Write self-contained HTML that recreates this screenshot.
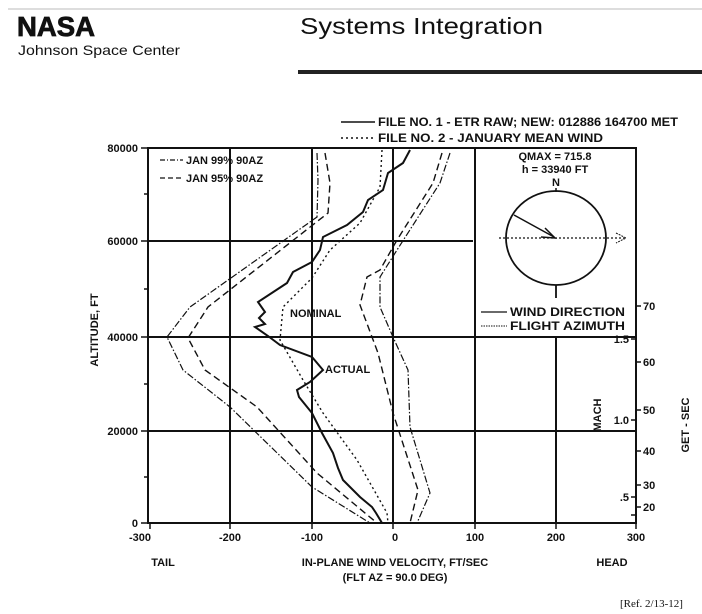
<!DOCTYPE html>
<html><head><style>
html,body{margin:0;padding:0;background:#fff;}
svg{display:block;}
text{font-family:"Liberation Sans",sans-serif;fill:#111;}
.b{font-weight:bold;}
</style></head><body>
<svg width="702" height="614" viewBox="0 0 702 614" xmlns="http://www.w3.org/2000/svg">
<line x1="8" y1="9" x2="702" y2="9" stroke="#bbb" stroke-width="1"/>
<text x="17" y="36" class="b" font-size="28" textLength="78" lengthAdjust="spacingAndGlyphs" stroke="#111" stroke-width="0.8">NASA</text>
<text x="18" y="55" font-size="14" textLength="162" lengthAdjust="spacingAndGlyphs">Johnson Space Center</text>
<text x="300" y="34" font-size="23" textLength="243" lengthAdjust="spacingAndGlyphs">Systems Integration</text>
<rect x="298" y="70" width="404" height="4" fill="#222"/>

<line x1="341" y1="122" x2="375" y2="122" stroke="#111" stroke-width="1.5"/>
<text x="378" y="126" class="b" font-size="12" textLength="300" lengthAdjust="spacingAndGlyphs">FILE NO. 1 - ETR RAW; NEW: 012886 164700 MET</text>
<line x1="341" y1="138" x2="375" y2="138" stroke="#111" stroke-width="1.5" stroke-dasharray="2,3"/>
<text x="378" y="142" class="b" font-size="12" textLength="225" lengthAdjust="spacingAndGlyphs">FILE NO. 2 - JANUARY MEAN WIND</text>

<g stroke="#111" stroke-width="2" fill="none">
<rect x="148" y="148" width="488" height="375"/>
<line x1="230" y1="148" x2="230" y2="523"/>
<line x1="312" y1="148" x2="312" y2="523"/>
<line x1="393" y1="148" x2="393" y2="523"/>
<line x1="475" y1="148" x2="475" y2="523"/>
<line x1="556" y1="337" x2="556" y2="523"/>
<line x1="148" y1="241" x2="473" y2="241"/>
<line x1="148" y1="337" x2="636" y2="337"/>
<line x1="148" y1="431" x2="636" y2="431"/>
</g>
<g stroke="#111" stroke-width="1.5">
<line x1="141" y1="148" x2="148" y2="148"/><line x1="144" y1="194" x2="148" y2="194"/>
<line x1="141" y1="241" x2="148" y2="241"/><line x1="144" y1="289" x2="148" y2="289"/>
<line x1="141" y1="337" x2="148" y2="337"/><line x1="144" y1="384" x2="148" y2="384"/>
<line x1="141" y1="431" x2="148" y2="431"/><line x1="144" y1="477" x2="148" y2="477"/>
<line x1="141" y1="523" x2="148" y2="523"/>
<line x1="150" y1="523" x2="150" y2="529"/><line x1="230" y1="523" x2="230" y2="529"/>
<line x1="312" y1="523" x2="312" y2="529"/><line x1="393" y1="523" x2="393" y2="529"/>
<line x1="475" y1="523" x2="475" y2="529"/><line x1="556" y1="523" x2="556" y2="529"/>
<line x1="636" y1="523" x2="636" y2="529"/>
<line x1="636" y1="306" x2="641" y2="306"/><line x1="636" y1="362" x2="641" y2="362"/>
<line x1="636" y1="410" x2="641" y2="410"/><line x1="636" y1="451" x2="641" y2="451"/>
<line x1="636" y1="485" x2="641" y2="485"/><line x1="636" y1="507" x2="641" y2="507"/>
<line x1="631" y1="339" x2="636" y2="339"/><line x1="631" y1="420" x2="636" y2="420"/>
<line x1="631" y1="497" x2="636" y2="497"/><line x1="631" y1="515" x2="636" y2="515"/>
</g>

<g class="b" font-size="11" text-anchor="end">
<text x="138" y="152">80000</text><text x="138" y="245">60000</text>
<text x="138" y="341">40000</text><text x="138" y="435">20000</text><text x="138" y="527">0</text>
</g>
<g class="b" font-size="11" text-anchor="middle">
<text x="140" y="541">-300</text><text x="230" y="541">-200</text><text x="312" y="541">-100</text>
<text x="395" y="541">0</text><text x="475" y="541">100</text><text x="556" y="541">200</text><text x="636" y="541">300</text>
<text x="163" y="566">TAIL</text><text x="612" y="566">HEAD</text>
<text x="395" y="566">IN-PLANE WIND VELOCITY, FT/SEC</text>
<text x="395" y="581">(FLT AZ = 90.0 DEG)</text>
</g>
<text transform="translate(98,330) rotate(-90)" class="b" font-size="11" text-anchor="middle">ALTITUDE, FT</text>
<g class="b" font-size="11">
<text x="643" y="310">70</text><text x="643" y="366">60</text><text x="643" y="414">50</text>
<text x="643" y="455">40</text><text x="643" y="489">30</text><text x="643" y="511">20</text>
<text x="629" y="343" text-anchor="end">1.5</text><text x="629" y="424" text-anchor="end">1.0</text>
<text x="629" y="501" text-anchor="end">.5</text>
</g>
<text transform="translate(601,415) rotate(-90)" class="b" font-size="11" text-anchor="middle">MACH</text>
<text transform="translate(689,425) rotate(-90)" class="b" font-size="11" text-anchor="middle">GET - SEC</text>

<line x1="160" y1="160" x2="183" y2="160" stroke="#111" stroke-width="1.3" stroke-dasharray="5,2,1,2"/>
<text x="186" y="164" class="b" font-size="11">JAN 99% 90AZ</text>
<line x1="160" y1="178" x2="183" y2="178" stroke="#111" stroke-width="1.3" stroke-dasharray="5,3"/>
<text x="186" y="182" class="b" font-size="11">JAN 95% 90AZ</text>

<g fill="none" stroke="#111">
<polyline stroke-width="1.2" stroke-dasharray="7,2,1.5,2" points="317,153 318,180 317,217 190,307 167,337 183,370 230,407 312,487 370,523"/>
<polyline stroke-width="1.4" stroke-dasharray="7,4" points="325,153 330,183 328,213 208,307 188,338 205,370 257,407 317,473 377,523"/>
<polyline stroke-width="2" points="410,150 403,163 388,173 383,190 368,200 363,212 347,225 323,237 320,250 312,262 293,272 287,283 258,302 265,312 259,318 265,324 255,327 268,336 280,345 312,357 323,370 310,382 297,390 299,397 312,413 322,433 333,453 338,468 343,480 360,497 372,507 376,513 382,523"/>
<polyline stroke-width="1.4" stroke-dasharray="2,3" points="382,150 380,187 360,223 330,250 312,278 283,307 280,340 303,380 323,413 357,460 387,513 388,523"/>
<polyline stroke-width="1.4" stroke-dasharray="7,4" points="442,153 433,183 397,240 380,270 367,277 360,305 378,353 393,413 418,490 410,523"/>
<polyline stroke-width="1.2" stroke-dasharray="7,2,1.5,2" points="450,153 440,183 397,250 380,277 380,307 393,337 408,370 410,427 430,493 417,523"/>
</g>
<g class="b" font-size="11">
<text x="290" y="317">NOMINAL</text>
<text x="325" y="373">ACTUAL</text>
</g>

<text x="555" y="160" class="b" font-size="11" text-anchor="middle">QMAX = 715.8</text>
<text x="555" y="173" class="b" font-size="11" text-anchor="middle">h = 33940  FT</text>
<text x="556" y="186" class="b" font-size="11" text-anchor="middle">N</text>
<ellipse cx="556" cy="238" rx="50" ry="47" fill="none" stroke="#111" stroke-width="1.8"/>
<line x1="556" y1="188" x2="556" y2="192" stroke="#111" stroke-width="1.5"/>
<line x1="556" y1="285" x2="556" y2="298" stroke="#111" stroke-width="1.8"/>
<line x1="499" y1="238" x2="624" y2="238" stroke="#111" stroke-width="1.2" stroke-dasharray="2,2"/>
<polyline points="616,233 626,238 616,243" fill="none" stroke="#111" stroke-width="1" stroke-dasharray="2,1"/>
<line x1="514" y1="215" x2="554" y2="237" stroke="#111" stroke-width="1.5"/>
<polyline points="545,228 555,238 541,237" fill="none" stroke="#111" stroke-width="1.5"/>
<line x1="481" y1="312" x2="507" y2="312" stroke="#111" stroke-width="1.3"/>
<text x="510" y="316" class="b" font-size="12" textLength="115" lengthAdjust="spacingAndGlyphs">WIND DIRECTION</text>
<line x1="481" y1="326" x2="507" y2="326" stroke="#111" stroke-width="1" stroke-dasharray="1.5,1"/>
<text x="510" y="330" class="b" font-size="12" textLength="115" lengthAdjust="spacingAndGlyphs">FLIGHT AZIMUTH</text>

<text x="620" y="607" font-size="11" style="font-family:'Liberation Serif',serif">[Ref. 2/13-12]</text>
</svg>
</body></html>
